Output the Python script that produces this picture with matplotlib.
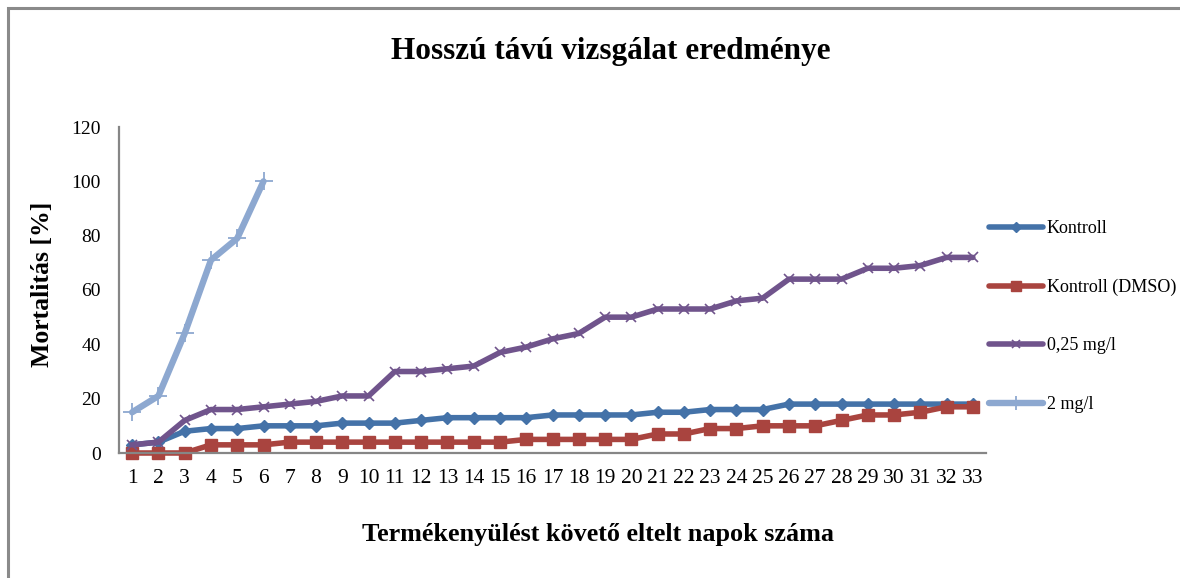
import matplotlib
matplotlib.use("Agg")
import matplotlib.pyplot as plt
from matplotlib.patches import Rectangle

days = list(range(1, 34))
kontroll = [3, 4, 8, 9, 9, 10, 10, 10, 11, 11, 11, 12, 13, 13, 13, 13, 14, 14, 14, 14,
            15, 15, 16, 16, 16, 18, 18, 18, 18, 18, 18, 18, 18]
kontroll_dmso = [0, 0, 0, 3, 3, 3, 4, 4, 4, 4, 4, 4, 4, 4, 4, 5, 5, 5, 5, 5,
                 7, 7, 9, 9, 10, 10, 10, 12, 14, 14, 15, 17, 17]
dose_025 = [3, 4, 12, 16, 16, 17, 18, 19, 21, 21, 30, 30, 31, 32, 37, 39, 42, 44, 50, 50,
            53, 53, 53, 56, 57, 64, 64, 64, 68, 68, 69, 72, 72]
days_2 = [1, 2, 3, 4, 5, 6]
dose_2 = [15, 21, 44, 71, 79, 100]

labels = ["Kontroll", "Kontroll (DMSO)", "0,25 mg/l", "2 mg/l"]
colors = ["#4472A8", "#A9443F", "#70548C", "#8DA8D0"]

plt.rcParams['font.family'] = ['Liberation Serif', 'DejaVu Serif']

W, H = 1180, 578
fig = plt.figure(figsize=(W / 100, H / 100), dpi=100)
fig.patch.set_facecolor('white')

# outer chart frame
fig.add_artist(Rectangle((8 / W, -0.1), 1.2, 1 - 8 / H + 0.1, transform=fig.transFigure,
                         fill=False, edgecolor='#8A8A8A', linewidth=2.2))

ax = fig.add_axes([119 / W, 1 - 453 / H, (986 - 119) / W, (453 - 127) / H])

lw = 4.0
ax.plot(days, kontroll, color=colors[0], lw=lw, marker='D', ms=6.5,
        mec=colors[0], mfc=colors[0], label=labels[0], solid_capstyle='round', solid_joinstyle='round')
ax.plot(days, kontroll_dmso, color=colors[1], lw=lw, marker='s', ms=8.5,
        mec=colors[1], mfc=colors[1], label=labels[1], solid_capstyle='round', solid_joinstyle='round')
ax.plot(days, dose_025, color=colors[2], lw=lw, marker='x', ms=7.5, mew=1.2,
        mec=colors[2], label=labels[2], solid_capstyle='round', solid_joinstyle='round')
ax.plot(days_2, dose_2, color=colors[3], lw=lw + 0.6, marker='+', ms=13, mew=1.3,
        mec=colors[3], label=labels[3], solid_capstyle='round', solid_joinstyle='round')

ax.set_xlim(0.5, 33.5)
ax.set_ylim(0, 120)
ax.set_xticks(days)
ax.set_xticklabels([str(d) for d in days])
ax.set_yticks(range(0, 121, 20))
ax.tick_params(axis='both', length=0, colors='black')
ax.tick_params(axis='y', pad=13, labelsize=14)
ax.tick_params(axis='x', pad=11.5, labelsize=15.5)
for s in ['top', 'right']:
    ax.spines[s].set_visible(False)
for s in ['left', 'bottom']:
    ax.spines[s].set_color('#868686')
    ax.spines[s].set_linewidth(1.6)
for ln in ax.lines:
    ln.set_clip_on(False)

fig.text(611 / W, 1 - 52 / H, "Hosszú távú vizsgálat eredménye", ha='center', va='center',
         fontsize=22.5, fontweight='bold')
fig.text(598 / W, 1 - 535 / H, "Termékenyülést követő eltelt napok száma", ha='center', va='center',
         fontsize=18.8, fontweight='bold')
fig.text(43 / W, 1 - 284 / H, "Mortalitás [%]", ha='center', va='center', rotation=90,
         fontsize=18.5, fontweight='bold')

leg = ax.legend(loc='center left', bbox_to_anchor=(989 / W, 1 - 316.5 / H),
                bbox_transform=fig.transFigure, frameon=False, fontsize=13,
                labelspacing=2.3, handlelength=3.0, handletextpad=0.2, borderpad=0,
                borderaxespad=0, markerscale=0.8)

fig.savefig("out.png", dpi=100)
